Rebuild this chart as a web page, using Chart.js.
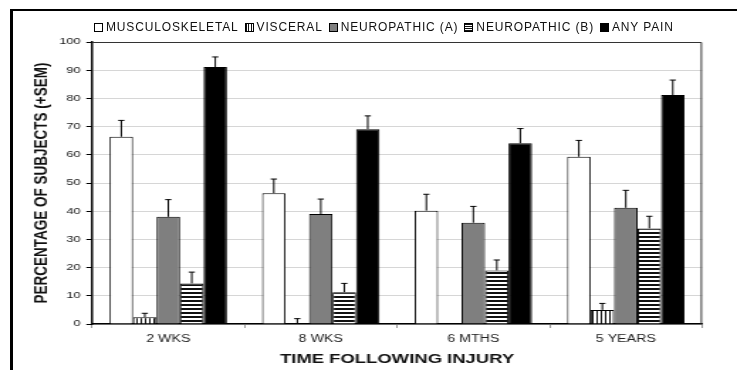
<!DOCTYPE html>
<html>
<head>
<meta charset="utf-8">
<script src="https://cdn.jsdelivr.net/npm/chart.js@4.4.1/dist/chart.umd.min.js"></script>
<style>
  html, body { margin: 0; padding: 0; background: #fff; }
  #wrap { position: relative; width: 737px; height: 370px; overflow: hidden; }
  #frame { position: absolute; left: 10px; top: 9px; width: 740px; height: 380px;
           border-top: 2px solid #000; border-left: 3px solid #000; }
  #chart { position: absolute; left: 0; top: 0; }
  #legend { position: absolute; left: 94px; top: 20px; display: flex; align-items: center;
            font: 12px "Liberation Sans", Arial, sans-serif; letter-spacing: 0.85px; color: #111; white-space: nowrap; }
  #legend .item { display: flex; align-items: center; margin-right: 6px; }
  #legend .box { width: 7px; height: 7px; border: 1px solid #000; margin-right: 3px; }
</style>
</head>
<body>
<div id="wrap">
  <div id="frame"></div>
  <canvas id="chart" width="519" height="370" style="width:737px;height:370px"></canvas>
  <div id="legend"></div>
</div>
<script>
const categories = ["2 WKS", "8 WKS", "6 MTHS", "5 YEARS"];
const seriesNames = ["MUSCULOSKELETAL", "VISCERAL", "NEUROPATHIC (A)", "NEUROPATHIC (B)", "ANY PAIN"];

const musculoskeletal = [66.4, 46.4, 40.2, 59.3];
const visceral        = [2.4, 0, 0, 5.0];
const neuropathicA    = [38.0, 39.0, 35.9, 41.2];
const neuropathicB    = [14.4, 11.3, 19.0, 33.9];
const anyPain         = [91.1, 69.1, 64.1, 81.2];

// +SEM (error bar length above each bar)
const semMusculoskeletal = [5.8, 5.0, 5.8, 5.8];
const semVisceral        = [1.4, 1.9, 0, 2.3];
const semNeuropathicA    = [6.1, 5.3, 5.8, 6.2];
const semNeuropathicB    = [4.0, 3.1, 3.7, 4.3];
const semAnyPain         = [3.6, 4.7, 5.2, 5.3];

const yTicks = [0, 10, 20, 30, 40, 50, 60, 70, 80, 90, 100];

function stripes(vertical) {
   const c = document.createElement("canvas");
   const ctx = c.getContext("2d");
   if (vertical) {
      c.width = 3; c.height = 3;
      ctx.fillStyle = "#fff"; ctx.fillRect(0, 0, 3, 3);
      ctx.fillStyle = "#111"; ctx.fillRect(0, 0, 1, 3);
   } else {
      c.width = 4; c.height = 4;
      ctx.fillStyle = "#fff"; ctx.fillRect(0, 0, 4, 4);
      ctx.fillStyle = "#111"; ctx.fillRect(0, 0, 4, 2);
   }
   return ctx.createPattern(c, "repeat");
}

const ctx = document.getElementById("chart").getContext("2d");
const fills = ["#ffffff", stripes(true), "#7f7f7f", stripes(false), "#000000"];
const cssFills = [
   "#ffffff",
   "repeating-linear-gradient(90deg, #111 0 1px, #fff 1px 2.5px)",
   "#7f7f7f",
   "repeating-linear-gradient(0deg, #111 0 1px, #fff 1px 2px)",
   "#000000"
];
const values = [musculoskeletal, visceral, neuropathicA, neuropathicB, anyPain];
const sems = [semMusculoskeletal, semVisceral, semNeuropathicA, semNeuropathicB, semAnyPain];

const datasets = seriesNames.map((name, i) => ({
   label: name,
   data: values[i],
   backgroundColor: fills[i],
   borderColor: "#000",
   borderWidth: 1,
   barPercentage: 1.0,
   categoryPercentage: 0.77
}));

const errorBars = {
   id: "errorBars",
   afterDatasetsDraw(chart) {
      const c = chart.ctx;
      const y = chart.scales.y;
      c.save();
      c.strokeStyle = "#000";
      c.lineWidth = 1;
      chart.data.datasets.forEach((ds, i) => {
         chart.getDatasetMeta(i).data.forEach((bar, j) => {
            const s = sems[i][j];
            if (!s) return;
            const top = y.getPixelForValue(ds.data[j] + s);
            c.beginPath();
            c.moveTo(bar.x, bar.y);
            c.lineTo(bar.x, top);
            c.moveTo(bar.x - 2.2, top);
            c.lineTo(bar.x + 2.2, top);
            c.stroke();
         });
      });
      c.restore();
   }
};

const plotFrame = {
   id: "plotFrame",
   afterDraw(chart) {
      const a = chart.chartArea;
      const c = chart.ctx;
      c.save();
      c.strokeStyle = "#333";
      c.lineWidth = 1;
      c.beginPath();
      c.moveTo(a.left, a.top + 0.5);
      c.lineTo(a.right - 0.5, a.top + 0.5);
      c.lineTo(a.right - 0.5, a.bottom);
      c.stroke();
      c.restore();
   }
};

new Chart(ctx, {
   type: "bar",
   data: { labels: categories, datasets: datasets },
   options: {
      responsive: false,
      animation: false,
      layout: { padding: { top: 42, right: 24.6, bottom: 0, left: 0 } },
      plugins: { legend: { display: false }, tooltip: { enabled: false } },
      scales: {
         x: {
            afterFit: scale => { scale.height = 46; },
            grid: { drawOnChartArea: false, tickLength: 4, tickColor: "#999", offset: true },
            border: { color: "#000", width: 1.5 },
            ticks: { color: "#222", padding: 5, font: { family: "Liberation Sans", size: 10 } },
            title: {
               display: true, text: "TIME FOLLOWING INJURY", color: "#111",
               padding: { top: 0, bottom: 3 },
               font: { family: "Liberation Sans", size: 13, weight: "bold" }
            }
         },
         y: {
            min: 0, max: 100,
            afterFit: scale => { scale.width = 64.8; },
            afterBuildTicks: scale => { scale.ticks = yTicks.map(v => ({ value: v })); },
            grid: { color: "#d6d6d6", tickColor: "#000", tickLength: 4 },
            border: { color: "#000", width: 1.5 },
            ticks: { color: "#222", padding: 4, font: { family: "Liberation Sans", size: 9 } },
            title: {
               display: true, text: "PERCENTAGE OF SUBJECTS (+SEM)", color: "#111",
               padding: { top: 21.5, bottom: 0 },
               font: { family: "Liberation Sans", size: 13.5, weight: "bold" }
            }
         }
      }
   },
   plugins: [errorBars, plotFrame]
});

// legend outside the stretched canvas
const legend = document.getElementById("legend");
seriesNames.forEach((name, i) => {
   const item = document.createElement("div");
   item.className = "item";
   const box = document.createElement("div");
   box.className = "box";
   box.style.background = cssFills[i];
   const label = document.createElement("span");
   label.textContent = name;
   item.appendChild(box);
   item.appendChild(label);
   legend.appendChild(item);
});
</script>
</body>
</html>
